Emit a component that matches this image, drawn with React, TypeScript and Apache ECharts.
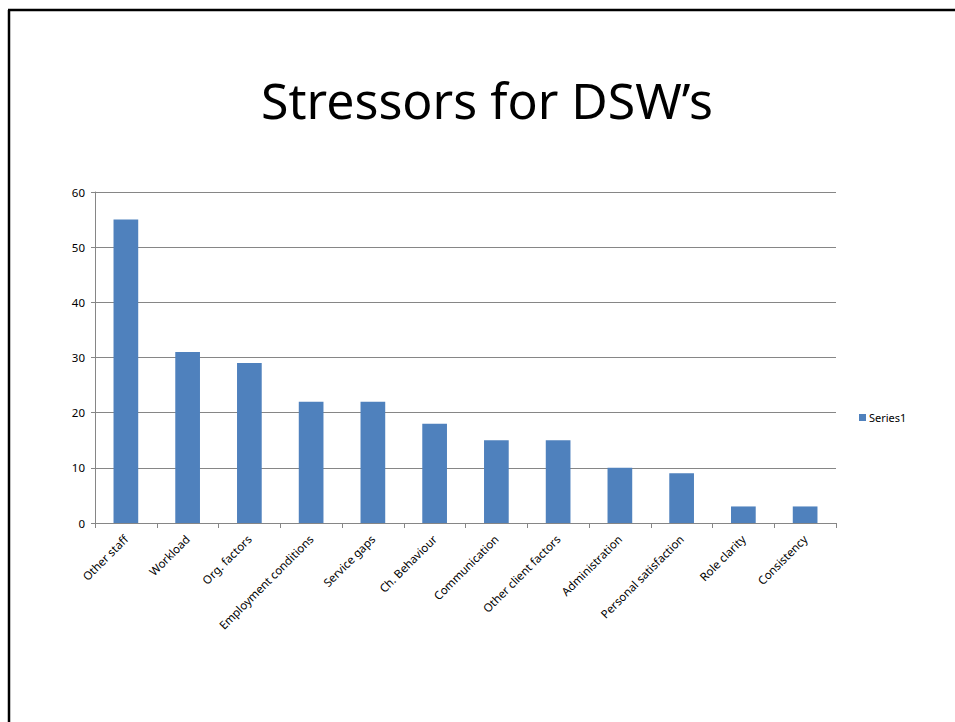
import React, { useEffect, useRef } from "react";
import * as echarts from "echarts";

const categories = [
  "Other staff",
  "Workload",
  "Org. factors",
  "Employment conditions",
  "Service gaps",
  "Ch. Behaviour",
  "Communication",
  "Other client factors",
  "Administration",
  "Personal satisfaction",
  "Role clarity",
  "Consistency",
];
const series1 = [55, 31, 29, 22, 22, 18, 15, 15, 10, 9, 3, 3];
const titleText = "Stressors for DSW\u2019s";
const seriesName = "Series1";

const FONT = "'Noto Sans', 'Open Sans', sans-serif";

export default function App() {
  const ref = useRef<HTMLDivElement>(null);
  useEffect(() => {
    if (!ref.current) return;
    const chart = echarts.init(ref.current, undefined, { renderer: "svg" });
    chart.setOption({
      animation: false,
      backgroundColor: "#ffffff",
      textStyle: { fontFamily: FONT },
      graphic: [
        { type: "line", shape: { x1: 9, y1: 10, x2: 9, y2: 722 }, style: { stroke: "#000", lineWidth: 2.5 } },
        { type: "line", shape: { x1: 8, y1: 10, x2: 955, y2: 10 }, style: { stroke: "#000", lineWidth: 2.5 } },
        {
          type: "text",
          x: 487,
          y: 100,
          style: {
            text: titleText,
            fill: "#000",
            font: `50px ${FONT}`,
            align: "center",
            verticalAlign: "middle",
          },
        },
      ],
      legend: {
        show: true,
        left: 854,
        top: 407,
        itemWidth: 7,
        itemHeight: 7,
        itemGap: 4,
        icon: "rect",
        textStyle: { fontSize: 11, color: "#000", fontFamily: FONT, padding: [0, 0, 0, -2] },
        data: [seriesName],
      },
      grid: { left: 95, right: 119, top: 192, bottom: 199, containLabel: false },
      xAxis: {
        type: "category",
        data: categories,
        axisLine: { lineStyle: { color: "#868686", width: 1 } },
        axisTick: { show: true, length: 5, lineStyle: { color: "#868686" } },
        axisLabel: { rotate: 45, fontSize: 11.5, color: "#000", fontFamily: FONT, margin: 14, interval: 0 },
      },
      yAxis: {
        type: "value",
        min: 0,
        max: 60,
        interval: 10,
        axisLine: { show: true, lineStyle: { color: "#868686", width: 1 } },
        axisTick: { show: true, length: 4, lineStyle: { color: "#868686" } },
        splitLine: { lineStyle: { color: "#868686", width: 1 } },
        axisLabel: { fontSize: 11.5, color: "#000", fontFamily: FONT, margin: 10 },
      },
      series: [
        {
          name: seriesName,
          type: "bar",
          data: series1,
          barWidth: "40%",
          itemStyle: { color: "#4F81BD" },
        },
      ],
    });
    return () => chart.dispose();
  }, []);
  return (
    <div
      ref={ref}
      style={{ position: "fixed", left: 0, top: 0, width: 955, height: 722 }}
    />
  );
}
